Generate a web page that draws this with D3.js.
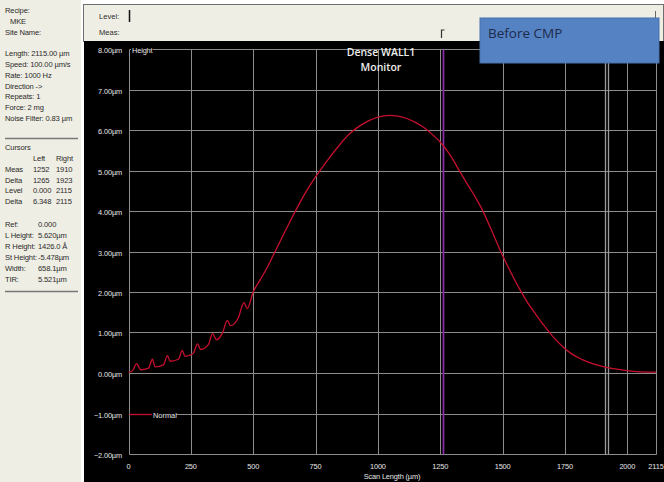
<!DOCTYPE html>
<html>
<head>
<meta charset="utf-8">
<script src="https://cdn.jsdelivr.net/npm/d3@7"></script>
<style>
  html, body { margin: 0; padding: 0; background: #fff; }
  svg { display: block; font-family: "Liberation Sans", Arial, sans-serif; }
</style>
</head>
<body>
<div id="Profile"></div>
<script>
// scan profile (µm along scan, µm height)
const scanLength = [0, 15, 33, 49, 80, 96, 107, 140, 156, 167, 200, 216, 226, 260, 277, 289,
  320, 337, 353, 377, 396, 409, 440, 463, 476, 500, 528, 554, 580, 620, 660, 700, 750, 800, 846,
  880, 913, 960, 1000, 1047, 1080, 1113, 1150, 1180, 1220, 1253, 1290, 1326, 1350, 1380, 1420,
  1453, 1493, 1530, 1573, 1600, 1633, 1665, 1700, 1747, 1780, 1820, 1860, 1907, 1950, 1997,
  2050, 2101, 2115];
const height = [0.02, 0.05, 0.23, 0.08, 0.12, 0.34, 0.15, 0.20, 0.43, 0.29, 0.34, 0.56, 0.41, 0.49, 0.72, 0.58,
  0.70, 0.97, 0.82, 0.99, 1.30, 1.17, 1.36, 1.74, 1.59, 2.00, 2.30, 2.58, 2.90, 3.40, 3.89, 4.35, 4.84, 5.27, 5.63,
  5.87, 6.04, 6.22, 6.32, 6.36, 6.34, 6.29, 6.19, 6.08, 5.88, 5.68, 5.38, 5.00, 4.75, 4.45, 4.01,
  3.56, 2.99, 2.52, 2.02, 1.74, 1.45, 1.18, 0.91, 0.62, 0.46, 0.33, 0.23, 0.15, 0.10, 0.06,
  0.03, 0.02, 0.02];

const xTicks = [0, 250, 500, 750, 1000, 1250, 1500, 1750, 2000, 2115];
const yTicks = [8, 7, 6, 5, 4, 3, 2, 1, 0, -1, -2];
const purpleCursor = [1260];
const grayCursors = [1910, 1923];

const infoTop = [
  ["Recipe:", ""], ["  MKE", ""], ["Site Name:", ""], ["", ""],
  ["Length: 2115.00 µm", ""], ["Speed: 100.00 µm/s", ""], ["Rate: 1000 Hz", ""],
  ["Direction ->", ""], ["Repeats: 1", ""], ["Force: 2 mg", ""], ["Noise Filter: 0.83 µm", ""]
];
const cursorRows = [
  ["", "Left", "Right"], ["Meas", "1252", "1910"], ["Delta", "1265", "1923"],
  ["Level", "0.000", "2115"], ["Delta", "6.348", "2115"]
];
const resultRows = [
  ["Ref:", "0.000"], ["L Height:", "5.620µm"], ["R Height:", "1426.0 Å"],
  ["St Height:", "-5.478µm"], ["Width:", "658.1µm"], ["TIR:", "5.521µm"]
];

const W = 664, H = 482;
const svg = d3.select("#Profile").append("svg")
  .attr("width", W).attr("height", H);

// panels
svg.append("rect").attr("width", W).attr("height", H).attr("fill", "#fff");
svg.append("rect").attr("x", 0).attr("y", 0).attr("width", 81).attr("height", H).attr("fill", "#efeee4");
svg.append("rect").attr("x", 83.5).attr("y", 4.5).attr("width", 580).attr("height", 37)
  .attr("fill", "#efeee4").attr("stroke", "#6e6e6e");
svg.append("rect").attr("x", 84).attr("y", 41).attr("width", 580).attr("height", 441).attr("fill", "#000");

// left info panel
const info = svg.append("g").attr("font-size", 7.6).attr("fill", "#2a2a2a")
  .attr("letter-spacing", -0.15);
infoTop.forEach((r, i) => {
  info.append("text").attr("x", r[0].startsWith("  ") ? 10 : 5).attr("y", 13 + i * 10.8)
    .text(r[0].trim());
});
info.append("line").attr("x1", 5).attr("x2", 78).attr("y1", 138.5).attr("y2", 138.5)
  .attr("stroke", "#777").attr("stroke-width", 1.5);
info.append("text").attr("x", 5).attr("y", 150).text("Cursors");
cursorRows.forEach((r, i) => {
  const yy = 161 + i * 10.8;
  info.append("text").attr("x", 5).attr("y", yy).text(r[0]);
  info.append("text").attr("x", 33).attr("y", yy).text(r[1]);
  info.append("text").attr("x", 56).attr("y", yy).text(r[2]);
});
resultRows.forEach((r, i) => {
  const yy = 227 + i * 10.9;
  info.append("text").attr("x", 5).attr("y", yy).text(r[0]);
  info.append("text").attr("x", 38).attr("y", yy).text(r[1]);
});
info.append("line").attr("x1", 5).attr("x2", 78).attr("y1", 291.5).attr("y2", 291.5)
  .attr("stroke", "#777").attr("stroke-width", 1.5);

// top bar
const bar = svg.append("g").attr("font-size", 7.6).attr("fill", "#2a2a2a");
bar.append("text").attr("x", 99).attr("y", 19).text("Level:");
bar.append("text").attr("x", 99).attr("y", 35).text("Meas:");

const x = d3.scaleLinear().domain([0, 2115]).range([128.5, 656]);
const y = d3.scaleLinear().domain([-2, 8]).range([454, 49]);
const px = v => Math.round(x(v)) + 0.5;
const py = v => Math.round(y(v)) + 0.5;

bar.append("line").attr("x1", px(0)).attr("x2", px(0)).attr("y1", 10).attr("y2", 22)
  .attr("stroke", "#111").attr("stroke-width", 1.5);
bar.append("path")
  .attr("d", `M${px(purpleCursor[0]) - 2},38 V30 H${px(purpleCursor[0]) + 1}`)
  .attr("fill", "none").attr("stroke", "#333").attr("stroke-width", 1.2);
bar.append("line").attr("x1", px(2115) - 1).attr("x2", px(2115) - 1).attr("y1", 11).attr("y2", 21)
  .attr("stroke", "#666").attr("stroke-width", 1);

// grid
const grid = svg.append("g").attr("stroke", "#8c8c8c").attr("stroke-width", 1);
grid.selectAll(".gx").data(xTicks).join("line")
  .attr("x1", d => px(d)).attr("x2", d => px(d))
  .attr("y1", py(8)).attr("y2", py(-2));
grid.selectAll(".gy").data(yTicks).join("line")
  .attr("x1", px(0)).attr("x2", px(2115))
  .attr("y1", d => py(d)).attr("y2", d => py(d));

// cursors
svg.selectAll(".gc").data(grayCursors).join("line")
  .attr("x1", d => px(d)).attr("x2", d => px(d))
  .attr("y1", py(8)).attr("y2", py(-2))
  .attr("stroke", "#9a9a9a").attr("stroke-width", 1.3);
svg.selectAll(".pc").data(purpleCursor).join("line")
  .attr("x1", d => px(d)).attr("x2", d => px(d))
  .attr("y1", py(8)).attr("y2", py(-2))
  .attr("stroke", "#8a2ea8").attr("stroke-width", 1.7);

// axis labels
const lab = svg.append("g").attr("font-size", 7.4).attr("fill", "#e6e6e6")
  .attr("letter-spacing", -0.15);
lab.selectAll(".yl").data(yTicks).join("text")
  .attr("x", 122).attr("y", d => py(d) + 3).attr("text-anchor", "end")
  .text(d => d3.format(".2f")(d) + "µm");
lab.selectAll(".xl").data(xTicks).join("text")
  .attr("x", d => x(d)).attr("y", 469).attr("text-anchor", "middle")
  .text(d => d);
lab.append("text").attr("x", 392).attr("y", 479).attr("text-anchor", "middle")
  .text("Scan Length (µm)");

// "Height" tag on top grid line
lab.append("rect").attr("x", 131).attr("y", py(8) - 4).attr("width", 22).attr("height", 8).attr("fill", "#000");
lab.append("text").attr("x", 132).attr("y", py(8) + 3).text("Height");

// profile trace
const series = scanLength.map((s, i) => ({ s: s, h: height[i] }));
svg.append("path")
  .datum(series)
  .attr("fill", "none")
  .attr("stroke", "#c8102e")
  .attr("stroke-width", 1.3)
  .attr("d", d3.line().x(d => x(d.s)).y(d => y(d.h)).curve(d3.curveMonotoneX));

// legend
const legend = svg.append("g").attr("font-size", 7.4).attr("fill", "#e6e6e6");
legend.append("line").attr("x1", px(0)).attr("x2", 152).attr("y1", py(-1)).attr("y2", py(-1))
  .attr("stroke", "#c8102e").attr("stroke-width", 1.3);
legend.append("rect").attr("x", 152).attr("y", py(-1) - 4).attr("width", 24).attr("height", 8).attr("fill", "#000");
legend.append("text").attr("x", 153).attr("y", py(-1) + 3).text("Normal");

// annotations
const title = svg.append("g").attr("font-family", "'Open Sans', 'Liberation Sans', sans-serif")
  .attr("font-size", 10.5).attr("font-weight", 600).attr("fill", "#eeeeee").attr("text-anchor", "middle");
title.append("text").attr("x", 381).attr("y", 56).text("Dense WALL1");
title.append("text").attr("x", 381).attr("y", 71).text("Monitor");

svg.append("rect").attr("x", 480).attr("y", 18).attr("width", 179).attr("height", 45)
  .attr("fill", "#5582c3").attr("stroke", "#4672ad").attr("stroke-width", 1);
svg.append("text").attr("x", 488).attr("y", 38)
  .attr("font-family", "'Open Sans', 'Liberation Sans', sans-serif")
  .attr("font-size", 13.5).attr("fill", "#1d2b4c").text("Before CMP");
</script>
</body>
</html>
